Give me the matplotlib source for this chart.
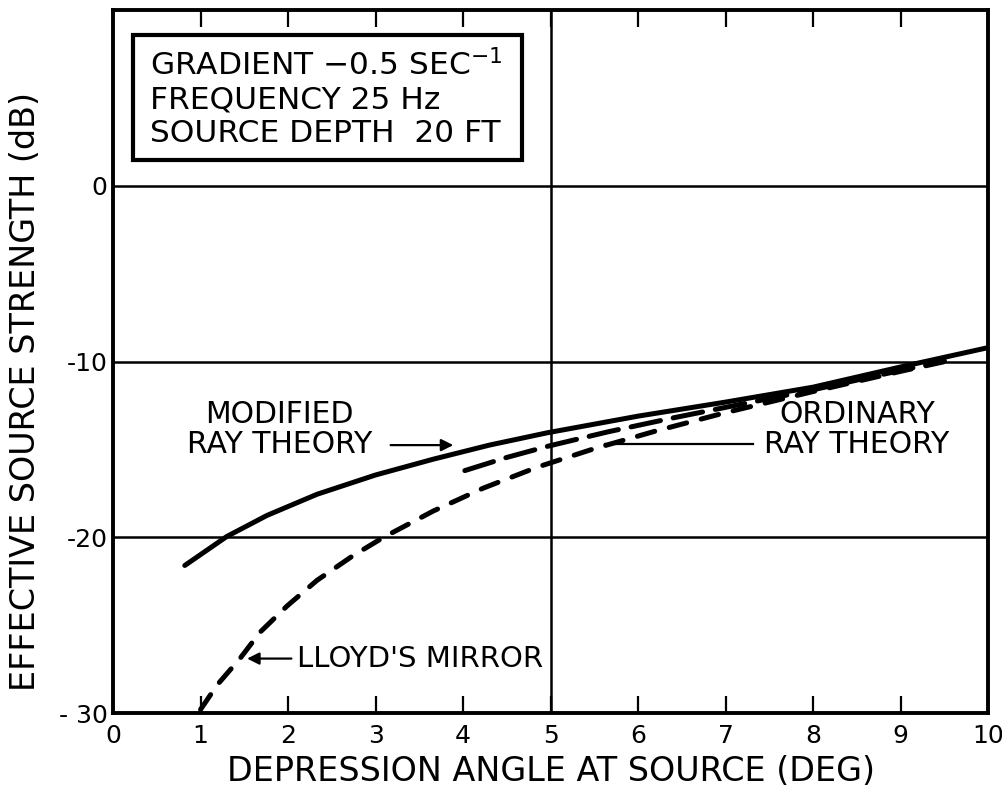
import matplotlib
matplotlib.use("Agg")
import matplotlib.pyplot as plt
from matplotlib.patches import Rectangle

# curves (x = depression angle in deg, y = dB)
mod_x = [0.82, 1.3, 1.76, 2.33, 3.0, 3.66, 4.3, 4.96, 6, 7, 8, 9, 10]
mod_y = [-21.6, -19.95, -18.75, -17.55, -16.45, -15.55, -14.75, -14.05, -13.1, -12.3, -11.45, -10.3, -9.2]

lloyd_x = [1.0, 1.19, 1.45, 1.68, 1.99, 2.33, 2.74, 3.09, 3.66, 4.23, 4.85, 5.5, 6.2, 7.0, 8.0, 9.0, 9.5]
lloyd_y = [-29.8, -28.4, -26.9, -25.4, -23.9, -22.45, -21.05, -20.0, -18.5, -17.2, -16.0, -14.95, -13.95, -12.9, -11.7, -10.55, -10.0]

ord_x = [4.02, 4.5, 4.98, 5.65, 6.4, 7, 8, 9, 9.5]
ord_y = [-16.2, -15.45, -14.8, -14.0, -13.2, -12.6, -11.6, -10.5, -9.95]

x_ticks = list(range(0, 11))
y_ticks = [0, -10, -20, -30]
y_labels = ["0", "-10", "-20", "- 30"]

info_lines = [r"GRADIENT $-$0.5 SEC$^{-1}$", "FREQUENCY 25 Hz", "SOURCE DEPTH  20 FT"]

plt.rcParams['font.family'] = ['DejaVu Sans']

fig = plt.figure(figsize=(10.03, 7.92), dpi=100)
ax = fig.add_axes([0.1127, 0.0997, 0.8725, 0.8873])
ax.set_xlim(0, 10)
ax.set_ylim(-30, 10)

# only a few grid lines in the original
for yy in [0, -10, -20]:
    ax.axhline(yy, color='black', lw=1.8, zorder=1)
ax.axvline(5, color='black', lw=1.8, zorder=1)

ax.plot(mod_x, mod_y, color='black', lw=3.6, solid_capstyle='round', solid_joinstyle='round', zorder=3)
ax.plot(lloyd_x, lloyd_y, color='black', lw=3.6, dashes=(3.6, 3.0), dash_capstyle='round', zorder=3)
ax.plot(ord_x, ord_y, color='black', lw=3.6, dashes=(6.0, 2.6), dash_capstyle='round', zorder=3)

for s in ax.spines.values():
    s.set_linewidth(2.8)

ax.set_xticks(x_ticks)
ax.set_xticklabels([str(v) for v in x_ticks], fontsize=18)
ax.set_yticks(y_ticks)
ax.set_yticklabels(y_labels, fontsize=18)
ax.tick_params(axis='x', direction='in', length=12, width=1.6, top=True, pad=8)
ax.tick_params(axis='y', length=0, pad=4)

ax.set_xlabel("DEPRESSION ANGLE AT SOURCE (DEG)", fontsize=24, labelpad=5)
ax.set_ylabel("EFFECTIVE SOURCE STRENGTH (dB)", fontsize=24)
ax.yaxis.set_label_coords(-0.081, 0.457)

# info box
ax.add_patch(Rectangle((0.23, 1.47), 4.44, 7.15, fill=False, lw=3.0, ec='black', zorder=4))
ax.text(0.42, 5.0, "\n".join(info_lines), fontsize=22.5, va='center', ha='left',
        linespacing=1.19, zorder=5)

# labels with pointers
ax.text(1.9, -13.85, "MODIFIED\nRAY THEORY", fontsize=21.5, ha='center', va='center', linespacing=1.07)
ax.annotate("", xy=(3.92, -14.75), xytext=(3.14, -14.75),
            arrowprops=dict(arrowstyle='-|>', color='black', lw=1.6, mutation_scale=18))

ax.text(8.5, -13.85, "ORDINARY\nRAY THEORY", fontsize=21.5, ha='center', va='center', linespacing=1.07)
ax.plot([5.62, 7.31], [-14.7, -14.7], color='black', lw=1.6)

ax.text(2.1, -26.9, "LLOYD'S MIRROR", fontsize=21, ha='left', va='center')
ax.annotate("", xy=(1.5, -26.9), xytext=(2.07, -26.9),
            arrowprops=dict(arrowstyle='-|>', color='black', lw=1.6, mutation_scale=18))

fig.savefig("out.png", dpi=100, facecolor='white')
